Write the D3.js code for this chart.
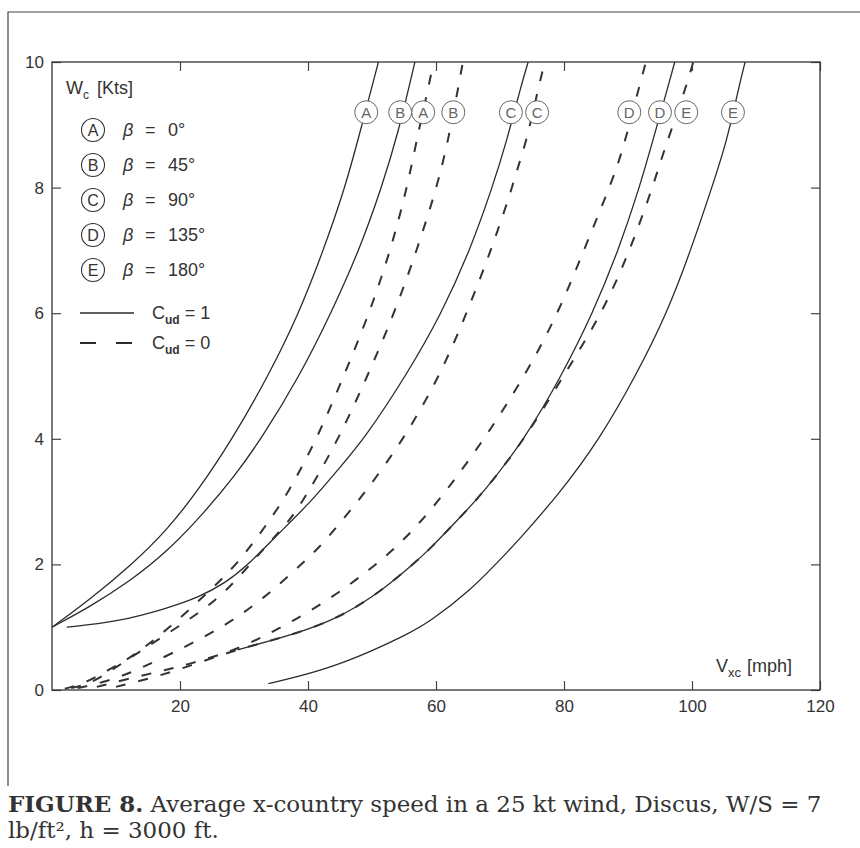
<!doctype html>
<html lang="en">
<head>
<meta charset="utf-8">
<title>Figure 8 - x-country speed</title>
<style>
  body { margin: 0; background: #fff; }
  svg text { fill: #333; }
  .lab { font-family: "Liberation Sans Narrow", "Liberation Sans", Arial, sans-serif; }
</style>
</head>
<body>
<div id="chart"></div>
<script src="https://cdn.jsdelivr.net/npm/d3@7/dist/d3.min.js"></script>
<script>

// axis ticks
var xTicks = [20, 40, 60, 80, 100, 120];
var yTicks = [0, 2, 4, 6, 8, 10];

// heading angle per curve letter
var curveIds = ["A", "B", "C", "D", "E"];
var betaLabels = ["0°", "45°", "90°", "135°", "180°"];

// C_ud = 1 (solid), points are [V_xc mph, W_c kts]
var solidA = [[0,1],[6,1.45],[12.5,2.0],[18,2.55],[23,3.2],[28.2,4],[33.8,5],[38.6,6],[42.4,7],[45.8,8],[48.1,8.87],[51,10]];
var solidB = [[0,1],[6,1.33],[12,1.72],[18,2.2],[24,2.85],[28.5,3.4],[32.7,4],[38.7,5],[43.6,6],[48,7],[51.5,8],[54.1,8.87],[56.7,10]];
var solidC = [[2.3,1.0],[10,1.08],[18,1.3],[23,1.48],[27,1.7],[30.5,1.98],[35,2.45],[40.5,3.0],[44.6,3.5],[48.8,4],[55.3,5],[60.9,6],[65.3,7],[68.8,8],[71.1,8.76],[73.1,9.55],[74.4,10]];
var solidD = [[29,0.64],[34,0.78],[39,0.93],[43.5,1.1],[47.6,1.32],[51.7,1.6],[56.4,2.0],[59.1,2.25],[63.3,2.7],[67.4,3.14],[73.9,4],[79.6,5],[84.5,6],[88.5,7],[91.8,8],[93.9,8.76],[96.1,9.55],[97.3,10]];
var solidE = [[33.8,0.1],[38,0.2],[43.9,0.37],[50,0.62],[55,0.86],[59,1.08],[65.5,1.6],[69.3,2.0],[72.6,2.35],[79.4,3.14],[85.6,4],[91.2,5],[96.1,6],[99.8,7],[103.1,8],[105.5,8.76],[107.2,9.55],[108.3,10]];

// C_ud = 0 (dashed)
var dashedA = [[2,0.02],[5,0.1],[9,0.33],[12,0.5],[15,0.72],[19.2,1.07],[23.9,1.51],[28.3,1.94],[31.2,2.31],[34,2.7],[36.9,3.14],[41.4,4],[45.6,5],[49.6,6],[52.9,7],[55.5,8],[57.2,8.87],[58.8,9.58],[59.6,10]];
var dashedB = [[3,0.03],[6,0.1],[10,0.36],[15.3,0.72],[21.3,1.11],[26.3,1.48],[30.2,1.91],[33.5,2.3],[37.2,2.7],[40,3.14],[44.8,4],[49.3,5],[53.5,6],[57,7],[59.8,7.9],[60.9,8.33],[61.9,8.76],[63.4,9.55],[64.2,10]];
var dashedC = [[4,0.03],[8,0.12],[12.2,0.27],[16,0.45],[21.5,0.72],[27.8,1.07],[33.3,1.48],[38,1.91],[41.9,2.28],[45,2.66],[48.9,3.14],[55,4],[60.6,5],[64.8,6],[68.6,7],[71.6,7.9],[72.8,8.33],[74.2,8.76],[75.9,9.55],[77,10]];
var dashedD = [[7,0.05],[12,0.18],[17,0.3],[21,0.4],[28.3,0.62],[33,0.85],[37.7,1.1],[43.9,1.48],[49.7,1.92],[54.1,2.3],[57.8,2.7],[61.4,3.14],[67.6,4],[73.9,5],[79.1,6],[83.1,7],[86.7,7.9],[88.3,8.33],[89.6,8.76],[91.6,9.55],[92.8,10]];
var dashedE = [[10,0.05],[16,0.2],[22,0.4],[27,0.58],[31,0.7],[34,0.78],[39,0.93],[43.5,1.1],[47.6,1.32],[51.7,1.6],[56.4,2.0],[59.1,2.25],[63.3,2.7],[67.4,3.14],[73.9,4],[79.9,5],[86,6],[90.3,7],[93.7,7.96],[95,8.39],[96.6,8.87],[98.9,9.55],[100.2,10]];

// circled letters near the top of each curve
var labelW = 9.2;
var solidLabelX = [49.1, 54.4, 71.7, 95, 106.4];
var dashedLabelX = [58, 62.7, 75.8, 90.2, 99.1];

var solidSeries = [solidA, solidB, solidC, solidD, solidE];
var dashedSeries = [dashedA, dashedB, dashedC, dashedD, dashedE];

var width = 860, height = 848;
var plotL = 52, plotR = 820, plotT = 62, plotB = 690;

var svg = d3.select("#chart").append("svg")
    .attr("width", width)
    .attr("height", height);

svg.append("rect").attr("width", width).attr("height", height).attr("fill", "#fff");

var x = d3.scaleLinear().domain([0, 120]).range([plotL, plotR]);
var y = d3.scaleLinear().domain([0, 10]).range([plotB, plotT]);

// outer box of the figure
svg.append("path")
    .attr("d", "M8,786V12H860")
    .attr("fill", "none")
    .attr("stroke", "#444")
    .attr("stroke-width", 1.2);

svg.append("clipPath").attr("id", "plot")
  .append("rect")
    .attr("x", plotL).attr("y", plotT)
    .attr("width", plotR - plotL).attr("height", plotB - plotT);

var line = d3.line()
    .x(function(d){ return x(d[0]); })
    .y(function(d){ return y(d[1]); })
    .curve(d3.curveBasis);

var curves = svg.append("g").attr("clip-path", "url(#plot)");

curves.selectAll(".solid")
  .data(solidSeries)
  .join("path")
    .attr("class", "solid")
    .attr("d", line)
    .attr("fill", "none")
    .attr("stroke", "#2b2b2b")
    .attr("stroke-width", 1.3);

curves.selectAll(".dashed")
  .data(dashedSeries)
  .join("path")
    .attr("class", "dashed")
    .attr("d", line)
    .attr("fill", "none")
    .attr("stroke", "#333")
    .attr("stroke-width", 2)
    .attr("stroke-dasharray", "10,13");

// circled letters on the curves
var labelData = solidLabelX.map(function(v, i){ return {x: v, id: curveIds[i]}; })
    .concat(dashedLabelX.map(function(v, i){ return {x: v, id: curveIds[i]}; }));

var tags = svg.append("g").selectAll("g")
  .data(labelData)
  .join("g")
    .attr("transform", function(d){ return "translate(" + x(d.x) + "," + y(labelW) + ")"; });

tags.append("circle")
    .attr("r", 11.5)
    .attr("fill", "#fff")
    .attr("stroke", "#666")
    .attr("stroke-width", 1);

tags.append("text")
    .attr("class", "lab")
    .attr("text-anchor", "middle")
    .attr("dy", "0.36em")
    .attr("font-size", 15)
    .style("fill", "#666")
    .text(function(d){ return d.id; });

// axes, ticks pointing inward
svg.append("g")
    .attr("transform", "translate(0," + plotB + ")")
    .call(d3.axisBottom(x).tickValues(xTicks).tickSizeInner(-9).tickSizeOuter(0).tickPadding(10));

svg.append("g")
    .attr("transform", "translate(0," + plotT + ")")
    .call(d3.axisTop(x).tickValues(xTicks).tickSizeInner(-9).tickSizeOuter(0).tickFormat(""));

svg.append("g")
    .attr("transform", "translate(" + plotL + ",0)")
    .call(d3.axisLeft(y).tickValues(yTicks).tickSizeInner(-9).tickSizeOuter(0).tickPadding(8));

svg.append("g")
    .attr("transform", "translate(" + plotR + ",0)")
    .call(d3.axisRight(y).tickValues(yTicks).tickSizeInner(-9).tickSizeOuter(0).tickFormat(""));

svg.selectAll(".domain").remove();
svg.selectAll(".tick line").attr("stroke", "#444").attr("stroke-width", 1.2);
svg.selectAll(".tick text")
    .attr("class", "lab")
    .attr("font-size", 17)
    .style("fill", "#333");

// plot frame
svg.append("rect")
    .attr("x", plotL).attr("y", plotT)
    .attr("width", plotR - plotL).attr("height", plotB - plotT)
    .attr("fill", "none")
    .attr("stroke", "#333")
    .attr("stroke-width", 1.3);

// y title
var wt = svg.append("text")
    .attr("class", "lab")
    .attr("x", 66).attr("y", 94)
    .attr("font-size", 18);
wt.append("tspan").text("W");
wt.append("tspan").attr("font-size", 12).attr("dy", 5).text("c");
wt.append("tspan").attr("dy", -5).attr("dx", 8).text("[Kts]");

// x title
var vt = svg.append("text")
    .attr("class", "lab")
    .attr("x", 716).attr("y", 672)
    .attr("font-size", 18);
vt.append("tspan").text("V");
vt.append("tspan").attr("font-size", 13).attr("dy", 5).text("xc");
vt.append("tspan").attr("dy", -5).attr("dx", 6).text("[mph]");

// legend: curve letters
var legend = svg.append("g").selectAll("g")
  .data(curveIds)
  .join("g")
    .attr("transform", function(d, i){ return "translate(93," + (130 + i * 35) + ")"; });

legend.append("circle")
    .attr("r", 11.5)
    .attr("fill", "#fff")
    .attr("stroke", "#333")
    .attr("stroke-width", 1.1);

legend.append("text")
    .attr("class", "lab")
    .attr("text-anchor", "middle")
    .attr("dy", "0.36em")
    .attr("font-size", 16)
    .text(function(d){ return d; });

legend.append("text")
    .attr("class", "lab")
    .attr("x", 30).attr("dy", "0.36em")
    .attr("font-size", 18)
    .attr("font-style", "italic")
    .text("β");

legend.append("text")
    .attr("class", "lab")
    .attr("x", 52).attr("dy", "0.36em")
    .attr("font-size", 18)
    .text("=");

legend.append("text")
    .attr("class", "lab")
    .attr("x", 75).attr("dy", "0.36em")
    .attr("font-size", 18)
    .text(function(d, i){ return betaLabels[i]; });

// legend: line styles
var lineKeys = [{dash: null, label: "1"}, {dash: "16,20", label: "0"}];

var keys = svg.append("g").selectAll("g")
  .data(lineKeys)
  .join("g")
    .attr("transform", function(d, i){ return "translate(0," + (313 + i * 30) + ")"; });

keys.append("line")
    .attr("x1", 80).attr("x2", 134)
    .attr("stroke", "#2b2b2b")
    .attr("stroke-width", function(d){ return d.dash ? 2 : 1.3; })
    .attr("stroke-dasharray", function(d){ return d.dash; });

var kt = keys.append("text")
    .attr("class", "lab")
    .attr("x", 152).attr("y", 6)
    .attr("font-size", 18);
kt.append("tspan").text("C");
kt.append("tspan").attr("font-size", 12).attr("font-weight", "bold").attr("dy", 5).text("ud");
kt.append("tspan").attr("dy", -5).attr("dx", 5).text(function(d){ return "= " + d.label; });

// caption
var cap = svg.append("text")
    .attr("x", 8).attr("y", 812)
    .attr("font-family", "'DejaVu Serif', 'Liberation Serif', serif")
    .attr("font-size", 20);
cap.append("tspan").attr("font-weight", "bold").text("FIGURE 8.");
cap.append("tspan").text(" Average x-country speed in a 25 kt wind, Discus, W/S = 7");

var w = cap.node().getComputedTextLength();
cap.attr("font-size", 20 * 814 / w);

svg.append("text")
    .attr("x", 8).attr("y", 838)
    .attr("font-family", "'DejaVu Serif', 'Liberation Serif', serif")
    .attr("font-size", 20 * 814 / w)
    .text("lb/ft², h = 3000 ft.");

</script>
</body>
</html>
